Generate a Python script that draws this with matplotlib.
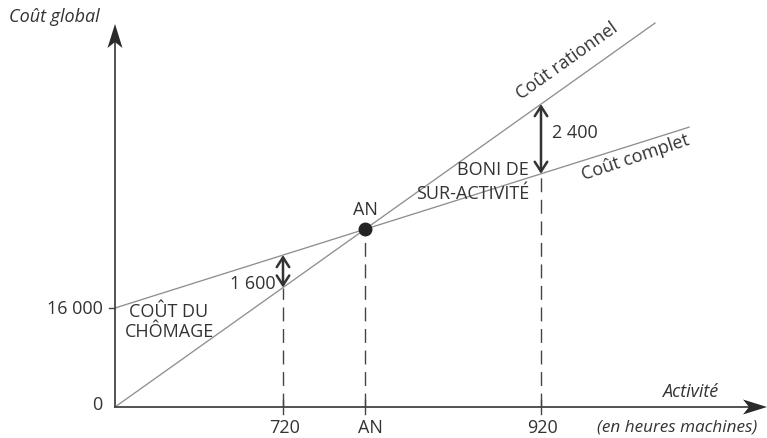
import matplotlib
matplotlib.use("Agg")
import matplotlib.pyplot as plt
from matplotlib.patches import FancyArrowPatch, Polygon
import numpy as np

plt.rcParams['font.family'] = ['Open Sans', 'DejaVu Sans']
plt.rcParams['lines.scale_dashes'] = False

# ---- schematic data (diagram units, not to scale) ----
fixed_cost_label = "16 000"
fixed_cost_level = 99          # schematic height of fixed cost
rational_slope = 0.711         # Coût rationnel = slope * activity
complete_slope = 0.315         # Coût complet = fixed + slope * activity
rational_end = 540
complete_end = 574

tick_labels = ["720", "AN", "920"]
tick_pos = [168, 250, 426]     # schematic activity positions
gap_labels = ["1 600", "2 400"]  # chômage / boni

x_max = 652
y_max = 383

TXT = "#333333"
LINE = "#8f8f8f"
AX = "#444444"
FS = 13

fig = plt.figure(figsize=(7.67, 4.39), dpi=100)
ax = fig.add_axes([0, 0, 1, 1])
ax.set_xlim(-115, 652)
ax.set_ylim(-31, 408)
ax.axis('off')


def rational(x):
    return rational_slope * np.asarray(x, float)


def complete(x):
    return fixed_cost_level + complete_slope * np.asarray(x, float)


def stealth(tip, direction, length=24, half_w=7.5, notch=6):
    d = np.asarray(direction, float)
    d = d / np.hypot(*d)
    n = np.array([-d[1], d[0]])
    tip = np.asarray(tip, float)
    back = tip - d * length
    pts = [tip, back + n * half_w, tip - d * (length - notch), back - n * half_w]
    ax.add_patch(Polygon(pts, closed=True, color="#2a2a2a", lw=0, zorder=4))


# axes with arrows
ax.plot([0, 0], [0, y_max - 15], color=AX, lw=1.3, zorder=3)
ax.plot([0, x_max - 15], [0, 0], color=AX, lw=1.3, zorder=3)
stealth((0, y_max), (0, 1))
stealth((x_max, 0), (1, 0))

# cost lines
xr = np.array([0, rational_end])
ax.plot(xr, rational(xr), color=LINE, lw=0.95, zorder=2)
xc = np.array([0, complete_end])
ax.plot(xc, complete(xc), color=LINE, lw=0.95, zorder=2)

# AN point
an_x = fixed_cost_level / (rational_slope - complete_slope)
ax.plot([an_x], [rational(an_x)], 'o', color="#222222", ms=9, zorder=5)
ax.text(an_x, rational(an_x) + 20, "AN", ha='center', va='center',
        fontsize=FS, color=TXT)

# dashed verticals & ticks
low_vals = [rational(tick_pos[0]), rational(an_x), complete(tick_pos[2])]
for x, top in zip(tick_pos, low_vals):
    ax.plot([x, x], [0, top], color=AX, lw=1.0, dashes=(10, 5.5), zorder=1)
    ax.plot([x, x], [-7, 7], color=AX, lw=1.0, zorder=3)

for x, lab in zip(tick_pos, tick_labels):
    off = 5 if lab == "AN" else 2
    ax.text(x + off, -20, lab, ha='center', va='center', fontsize=FS, color=TXT)

# y labels
ax.plot([-6, 0], [fixed_cost_level, fixed_cost_level], color=AX, lw=1.0)
ax.text(-12, fixed_cost_level, fixed_cost_label, ha='right', va='center',
        fontsize=FS, color=TXT)
ax.text(-18, 3, "0", ha='center', va='center', fontsize=FS, color=TXT)

# gap arrows
for x, (a, b) in [(tick_pos[0], (rational(tick_pos[0]), complete(tick_pos[0]))),
                  (tick_pos[2], (complete(tick_pos[2]), rational(tick_pos[2])))]:
    ax.add_patch(FancyArrowPatch((x, a), (x, b),
                                 arrowstyle="<->,head_length=7,head_width=4.5",
                                 mutation_scale=1, color="#333333", lw=1.8,
                                 shrinkA=0, shrinkB=0, zorder=4))

ax.text(tick_pos[0] - 7, rational(tick_pos[0]) + 5, gap_labels[0],
        ha='right', va='center', fontsize=FS, color=TXT)
ax.text(tick_pos[2] + 11, 275, gap_labels[1], ha='left', va='center',
        fontsize=FS, color=TXT)

# annotations
ax.text(-106, 391, "Coût global", ha='left', va='center', fontsize=FS,
        style='italic', color=TXT)
ax.text(575, 16, "Activité", ha='center', va='center', fontsize=FS,
        style='italic', color=TXT)
ax.text(482, -20, "(en heures machines)", ha='left', va='center', fontsize=12.3,
        style='italic', color=TXT)

ax.text(452, 347, "Coût rationnel", ha='center', va='center', fontsize=FS,
        rotation=np.degrees(np.arctan(rational_slope)), color=TXT,
        rotation_mode='anchor')
ax.text(520, 250, "Coût complet", ha='center', va='center', fontsize=FS,
        rotation=np.degrees(np.arctan(complete_slope)) + 1, color=TXT,
        rotation_mode='anchor')

ax.text(414, 226, "BONI DE\nSUR-ACTIVITÉ", ha='right', va='center',
        multialignment='right', fontsize=FS, color=TXT, linespacing=1.4)
ax.text(54, 86, "COÛT DU\nCHÔMAGE", ha='center', va='center',
        multialignment='center', fontsize=FS, color=TXT, linespacing=1.15)

fig.savefig("out.png", dpi=100)
